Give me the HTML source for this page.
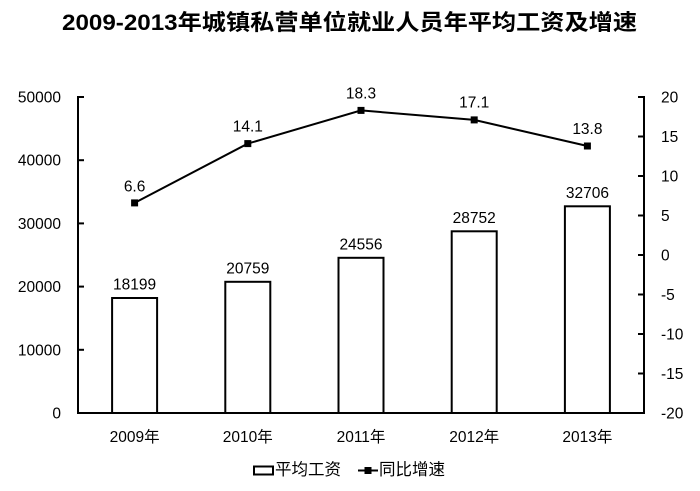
<!DOCTYPE html>
<html><head><meta charset="utf-8"><style>
html,body{margin:0;padding:0;background:#fff;}
svg{display:block;}
text{font-family:"Liberation Sans","Noto Sans CJK SC",sans-serif;fill:#000;}
</style></head><body>
<svg width="700" height="491" viewBox="0 0 700 491" xmlns="http://www.w3.org/2000/svg">
<rect width="700" height="491" fill="#fff"/>
<text x="62" y="30" font-size="22" font-weight="bold" textLength="575" lengthAdjust="spacingAndGlyphs" style="font-family:'Liberation Sans','Noto Sans CJK SC',sans-serif">2009-2013年城镇私营单位就业人员年平均工资及增速</text>

<!-- bars -->
<g fill="#fff" stroke="#000" stroke-width="2">
<rect x="112.1" y="298.0" width="45" height="115"/>
<rect x="225.3" y="281.8" width="45" height="131.2"/>
<rect x="338.5" y="257.8" width="45" height="155.2"/>
<rect x="451.7" y="231.3" width="45" height="181.7"/>
<rect x="564.9" y="206.3" width="45" height="206.7"/>
</g>

<!-- axes -->
<g stroke="#000" stroke-width="2" fill="none">
<line x1="78" y1="96" x2="78" y2="414"/>
<line x1="77" y1="413" x2="645" y2="413"/>
<line x1="644" y1="96" x2="644" y2="414"/>
<line x1="78" y1="97" x2="84" y2="97"/>
<line x1="78" y1="160.2" x2="84" y2="160.2"/>
<line x1="78" y1="223.4" x2="84" y2="223.4"/>
<line x1="78" y1="286.6" x2="84" y2="286.6"/>
<line x1="78" y1="349.8" x2="84" y2="349.8"/>
<line x1="638" y1="97" x2="644" y2="97"/>
<line x1="638" y1="136.5" x2="644" y2="136.5"/>
<line x1="638" y1="176" x2="644" y2="176"/>
<line x1="638" y1="215.5" x2="644" y2="215.5"/>
<line x1="638" y1="255" x2="644" y2="255"/>
<line x1="638" y1="294.5" x2="644" y2="294.5"/>
<line x1="638" y1="334" x2="644" y2="334"/>
<line x1="638" y1="373.5" x2="644" y2="373.5"/>
</g>

<!-- left axis labels -->
<g font-size="15.5" text-anchor="end">
<text x="61" y="102.5">50000</text>
<text x="61" y="165.7">40000</text>
<text x="61" y="228.9">30000</text>
<text x="61" y="292.1">20000</text>
<text x="61" y="355.3">10000</text>
<text x="61" y="418.5">0</text>
</g>
<!-- right axis labels -->
<g font-size="15.5" text-anchor="start">
<text x="661" y="102.5">20</text>
<text x="661" y="142">15</text>
<text x="661" y="181.5">10</text>
<text x="661" y="221">5</text>
<text x="661" y="260.5">0</text>
<text x="661" y="300">-5</text>
<text x="661" y="339.5">-10</text>
<text x="661" y="379">-15</text>
<text x="661" y="418.5">-20</text>
</g>
<!-- x labels -->
<g font-size="15.5" text-anchor="middle">
<text x="134.6" y="442">2009年</text>
<text x="247.8" y="442">2010年</text>
<text x="361" y="442">2011年</text>
<text x="474.2" y="442">2012年</text>
<text x="587.4" y="442">2013年</text>
</g>
<!-- bar labels -->
<g font-size="15.5" text-anchor="middle">
<text x="134.6" y="289.5">18199</text>
<text x="247.8" y="273.3">20759</text>
<text x="361" y="249.3">24556</text>
<text x="474.2" y="222.8">28752</text>
<text x="587.4" y="197.8">32706</text>
</g>

<!-- line -->
<polyline points="134.6,202.9 247.8,143.6 361,110.4 474.2,119.9 587.4,146" fill="none" stroke="#000" stroke-width="2"/>
<g fill="#000">
<rect x="131.1" y="199.4" width="7" height="7"/>
<rect x="244.3" y="140.1" width="7" height="7"/>
<rect x="357.5" y="106.9" width="7" height="7"/>
<rect x="470.7" y="116.4" width="7" height="7"/>
<rect x="583.9" y="142.5" width="7" height="7"/>
</g>
<g font-size="15.5" text-anchor="middle">
<text x="134.6" y="191.5">6.6</text>
<text x="247.8" y="131.5">14.1</text>
<text x="361" y="98.5">18.3</text>
<text x="474.2" y="107.5">17.1</text>
<text x="587.4" y="134">13.8</text>
</g>

<!-- legend -->
<rect x="254" y="466.5" width="19" height="8" fill="#fff" stroke="#000" stroke-width="2"/>
<text x="275" y="475" font-size="16.5">平均工资</text>
<line x1="358" y1="470.5" x2="378" y2="470.5" stroke="#000" stroke-width="2"/>
<rect x="364.5" y="467" width="7" height="7" fill="#000"/>
<text x="379" y="475" font-size="16.5">同比增速</text>
</svg>
</body></html>
